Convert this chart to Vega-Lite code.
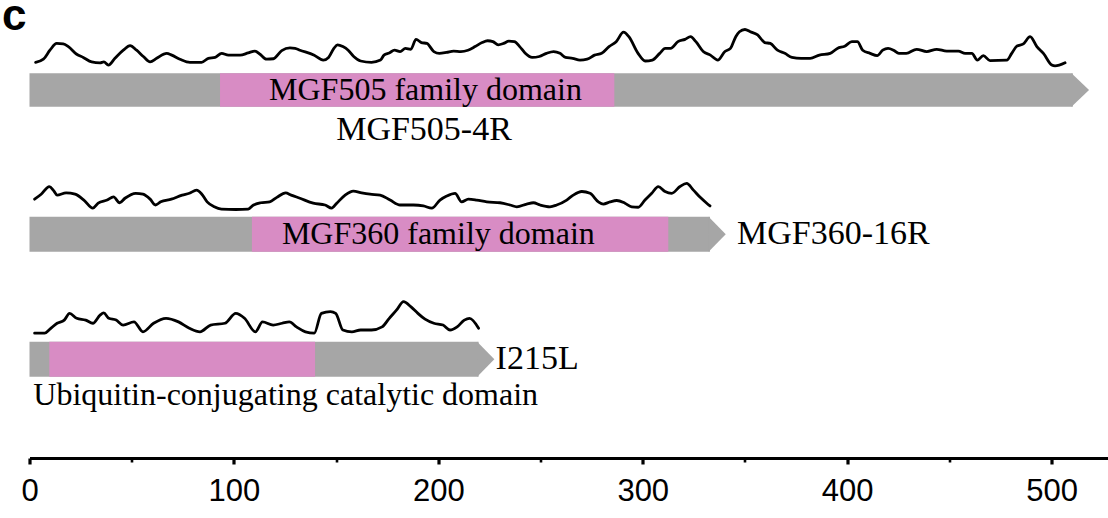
{
  "$schema": "https://vega.github.io/schema/vega-lite/v6.json",
  "width": 1078.5,
  "height": 458,
  "autosize": "none",
  "padding": {"left": 29.5, "top": 0, "right": 0, "bottom": 60},
  "background": "white",
  "config": {
    "view": {"stroke": null},
    "axisX": {
      "grid": false,
      "tickCount": 11,
      "domainColor": "black",
      "domainWidth": 3,
      "tickColor": "black",
      "tickWidth": {"condition": {"test": "datum.value % 100 === 0", "value": 3.2}, "value": 2.6},
      "tickSize": {"condition": {"test": "datum.value % 100 === 0", "value": 6}, "value": 4},
      "labelExpr": "datum.value % 100 === 0 ? datum.label : ''",
      "labelFont": "Liberation Sans",
      "labelFontSize": 31,
      "labelColor": "black",
      "labelPadding": 12,
      "labelFlush": false,
      "labelOverlap": false
    }
  },
  "datasets": {
    "features": [
      {"protein": "MGF505-4R", "feature": "MGF505-4R", "kind": "protein", "start": 0, "end": 510.4},
      {"protein": "MGF505-4R", "feature": "MGF505 family domain", "kind": "domain", "start": 93.2, "end": 286.1},
      {"protein": "MGF360-16R", "feature": "MGF360-16R", "kind": "protein", "start": 0, "end": 332.9},
      {"protein": "MGF360-16R", "feature": "MGF360 family domain", "kind": "domain", "start": 108.8, "end": 312.5},
      {"protein": "I215L", "feature": "I215L", "kind": "protein", "start": 0, "end": 219.7},
      {"protein": "I215L", "feature": "Ubiquitin-conjugating catalytic domain", "kind": "domain", "start": 9.7, "end": 139.7}
    ],
    "profile_505": [
      {"residue":3,"score":0.17},{"residue":6.8,"score":0.24},{"residue":10,"score":0.44},{"residue":13.3,"score":0.59},{"residue":16.5,"score":0.58},{"residue":19,"score":0.52},{"residue":23.1,"score":0.35},{"residue":26.3,"score":0.28},{"residue":30.4,"score":0.18},{"residue":34.5,"score":0.16},{"residue":36.4,"score":0.18},{"residue":38.6,"score":0.11},{"residue":41.8,"score":0.26},{"residue":45.9,"score":0.44},{"residue":49.2,"score":0.54},{"residue":52.4,"score":0.44},{"residue":55.7,"score":0.3},{"residue":59,"score":0.18},{"residue":62.2,"score":0.26},{"residue":67.1,"score":0.37},{"residue":69.6,"score":0.33},{"residue":73.6,"score":0.24},{"residue":78.5,"score":0.17},{"residue":84.2,"score":0.17},{"residue":87.5,"score":0.26},{"residue":90.8,"score":0.28},{"residue":94,"score":0.37},{"residue":97.3,"score":0.33},{"residue":103,"score":0.33},{"residue":107,"score":0.38},{"residue":110.3,"score":0.42},{"residue":112.8,"score":0.35},{"residue":116,"score":0.24},{"residue":119.3,"score":0.25},{"residue":123.4,"score":0.43},{"residue":127.4,"score":0.49},{"residue":129.9,"score":0.48},{"residue":132.3,"score":0.44},{"residue":139.3,"score":0.33},{"residue":143.7,"score":0.22},{"residue":146.3,"score":0.28},{"residue":148.9,"score":0.48},{"residue":150.7,"score":0.56},{"residue":153.3,"score":0.52},{"residue":155.9,"score":0.44},{"residue":158.6,"score":0.3},{"residue":162,"score":0.2},{"residue":167.3,"score":0.17},{"residue":171.7,"score":0.22},{"residue":173.4,"score":0.33},{"residue":176,"score":0.38},{"residue":178.6,"score":0.44},{"residue":181.3,"score":0.41},{"residue":183.9,"score":0.48},{"residue":186.5,"score":0.46},{"residue":189.1,"score":0.68},{"residue":191.7,"score":0.61},{"residue":194.4,"score":0.59},{"residue":197.8,"score":0.41},{"residue":200.5,"score":0.37},{"residue":204,"score":0.39},{"residue":207.5,"score":0.42},{"residue":211,"score":0.41},{"residue":214.5,"score":0.44},{"residue":218,"score":0.52},{"residue":221.4,"score":0.61},{"residue":224.1,"score":0.65},{"residue":226.7,"score":0.63},{"residue":229.3,"score":0.56},{"residue":231.9,"score":0.59},{"residue":234.5,"score":0.64},{"residue":237.2,"score":0.63},{"residue":239.8,"score":0.52},{"residue":242.4,"score":0.38},{"residue":245.9,"score":0.28},{"residue":249.4,"score":0.3},{"residue":252.9,"score":0.37},{"residue":256.4,"score":0.41},{"residue":259.5,"score":0.37},{"residue":262.2,"score":0.28},{"residue":265.7,"score":0.26},{"residue":269.3,"score":0.22},{"residue":272.8,"score":0.24},{"residue":276.4,"score":0.33},{"residue":279.9,"score":0.37},{"residue":283.5,"score":0.52},{"residue":287,"score":0.63},{"residue":290.6,"score":0.84},{"residue":293.2,"score":0.74},{"residue":297.7,"score":0.37},{"residue":301.2,"score":0.2},{"residue":304.7,"score":0.22},{"residue":308.3,"score":0.37},{"residue":311,"score":0.48},{"residue":313.6,"score":0.48},{"residue":317.2,"score":0.63},{"residue":320.7,"score":0.68},{"residue":323.4,"score":0.74},{"residue":326,"score":0.63},{"residue":329.6,"score":0.41},{"residue":333.1,"score":0.33},{"residue":336.7,"score":0.22},{"residue":340.2,"score":0.41},{"residue":342.9,"score":0.48},{"residue":345.5,"score":0.74},{"residue":347.3,"score":0.85},{"residue":350,"score":0.9},{"residue":352.6,"score":0.85},{"residue":356.2,"score":0.78},{"residue":359.7,"score":0.61},{"residue":362.4,"score":0.59},{"residue":365.9,"score":0.44},{"residue":369.5,"score":0.37},{"residue":373,"score":0.28},{"residue":377.5,"score":0.26},{"residue":381.9,"score":0.26},{"residue":386.4,"score":0.33},{"residue":391.7,"score":0.37},{"residue":395.2,"score":0.48},{"residue":398.8,"score":0.53},{"residue":402.3,"score":0.63},{"residue":405,"score":0.63},{"residue":407.6,"score":0.44},{"residue":411.2,"score":0.37},{"residue":414.7,"score":0.32},{"residue":417.4,"score":0.44},{"residue":420,"score":0.48},{"residue":422.7,"score":0.44},{"residue":425.3,"score":0.37},{"residue":428.9,"score":0.37},{"residue":434,"score":0.46},{"residue":438.9,"score":0.41},{"residue":443.8,"score":0.46},{"residue":448.7,"score":0.42},{"residue":454.4,"score":0.42},{"residue":457.7,"score":0.37},{"residue":461,"score":0.37},{"residue":463.7,"score":0.22},{"residue":466.6,"score":0.32},{"residue":469.9,"score":0.21},{"residue":478.1,"score":0.22},{"residue":480.5,"score":0.37},{"residue":483,"score":0.53},{"residue":486.2,"score":0.58},{"residue":489.5,"score":0.74},{"residue":492.8,"score":0.52},{"residue":496,"score":0.37},{"residue":500.1,"score":0.11},{"residue":501.7,"score":0.09},{"residue":506.6,"score":0.16}
    ],
    "profile_360": [
      {"residue":2.5,"score":0.33},{"residue":5.7,"score":0.44},{"residue":9.7,"score":0.61},{"residue":11.8,"score":0.52},{"residue":13.5,"score":0.42},{"residue":17.9,"score":0.47},{"residue":22.3,"score":0.44},{"residue":26.6,"score":0.31},{"residue":31,"score":0.13},{"residue":33.6,"score":0.24},{"residue":38,"score":0.31},{"residue":41.1,"score":0.38},{"residue":44.1,"score":0.25},{"residue":46.7,"score":0.35},{"residue":52,"score":0.46},{"residue":55.5,"score":0.44},{"residue":59,"score":0.33},{"residue":61.6,"score":0.2},{"residue":64.2,"score":0.27},{"residue":69.4,"score":0.33},{"residue":74.7,"score":0.42},{"residue":78.2,"score":0.46},{"residue":81.7,"score":0.53},{"residue":84.3,"score":0.44},{"residue":86.9,"score":0.27},{"residue":90.4,"score":0.16},{"residue":93.9,"score":0.11},{"residue":100.9,"score":0.1},{"residue":107,"score":0.11},{"residue":109.6,"score":0.2},{"residue":113.1,"score":0.25},{"residue":117.5,"score":0.27},{"residue":121,"score":0.37},{"residue":125.3,"score":0.47},{"residue":128,"score":0.42},{"residue":132.3,"score":0.35},{"residue":138.8,"score":0.24},{"residue":144.6,"score":0.2},{"residue":147.8,"score":0.13},{"residue":150.3,"score":0.24},{"residue":154.4,"score":0.42},{"residue":158.4,"score":0.51},{"residue":162.5,"score":0.47},{"residue":166.6,"score":0.44},{"residue":171.5,"score":0.42},{"residue":176.4,"score":0.31},{"residue":181.3,"score":0.2},{"residue":187.8,"score":0.2},{"residue":192.7,"score":0.18},{"residue":196.8,"score":0.13},{"residue":200.8,"score":0.31},{"residue":204.1,"score":0.4},{"residue":208.2,"score":0.46},{"residue":211.4,"score":0.27},{"residue":214.7,"score":0.33},{"residue":218.8,"score":0.31},{"residue":223.7,"score":0.27},{"residue":230.2,"score":0.25},{"residue":235.1,"score":0.2},{"residue":238.4,"score":0.16},{"residue":243.2,"score":0.22},{"residue":246.5,"score":0.25},{"residue":249.8,"score":0.2},{"residue":254.6,"score":0.16},{"residue":257.9,"score":0.2},{"residue":262.8,"score":0.31},{"residue":266,"score":0.42},{"residue":270.2,"score":0.5},{"residue":274.2,"score":0.46},{"residue":278.3,"score":0.27},{"residue":280.7,"score":0.22},{"residue":284,"score":0.27},{"residue":287.3,"score":0.3},{"residue":291.3,"score":0.24},{"residue":294.6,"score":0.16},{"residue":297.8,"score":0.15},{"residue":301.1,"score":0.31},{"residue":304.4,"score":0.46},{"residue":307.6,"score":0.61},{"residue":310.9,"score":0.5},{"residue":314.2,"score":0.46},{"residue":318.2,"score":0.61},{"residue":321.5,"score":0.68},{"residue":324.8,"score":0.53},{"residue":328.1,"score":0.37},{"residue":331.3,"score":0.24},{"residue":332.9,"score":0.18}
    ],
    "profile_215": [
      {"residue":2.5,"score":0.13},{"residue":7.4,"score":0.13},{"residue":10,"score":0.22},{"residue":13.5,"score":0.35},{"residue":17,"score":0.42},{"residue":19.6,"score":0.57},{"residue":23.1,"score":0.46},{"residue":27.5,"score":0.42},{"residue":31,"score":0.35},{"residue":34.5,"score":0.53},{"residue":36.3,"score":0.58},{"residue":38.8,"score":0.46},{"residue":42.4,"score":0.42},{"residue":45.8,"score":0.31},{"residue":51.1,"score":0.38},{"residue":55.5,"score":0.16},{"residue":60.7,"score":0.35},{"residue":66.8,"score":0.46},{"residue":72.9,"score":0.38},{"residue":78.2,"score":0.24},{"residue":83.4,"score":0.16},{"residue":88.6,"score":0.31},{"residue":95.6,"score":0.35},{"residue":100.9,"score":0.57},{"residue":105.2,"score":0.46},{"residue":110.5,"score":0.16},{"residue":114,"score":0.38},{"residue":119.2,"score":0.31},{"residue":123.6,"score":0.35},{"residue":127.1,"score":0.38},{"residue":130.6,"score":0.27},{"residue":135,"score":0.16},{"residue":139.3,"score":0.13},{"residue":142.8,"score":0.57},{"residue":147.2,"score":0.61},{"residue":149.8,"score":0.57},{"residue":153.3,"score":0.2},{"residue":157.7,"score":0.16},{"residue":162,"score":0.2},{"residue":167.3,"score":0.2},{"residue":172.5,"score":0.27},{"residue":176,"score":0.46},{"residue":179.5,"score":0.64},{"residue":183,"score":0.83},{"residue":186.5,"score":0.72},{"residue":190,"score":0.57},{"residue":193.5,"score":0.44},{"residue":197.8,"score":0.35},{"residue":202.3,"score":0.31},{"residue":205.7,"score":0.2},{"residue":209.2,"score":0.27},{"residue":212.7,"score":0.42},{"residue":215.3,"score":0.46},{"residue":219.7,"score":0.24}
    ]
  },
  "layer": [
    {
      "layer": [
        {
          "data": {"name": "profile_505"},
          "mark": {"type": "line", "color": "black", "strokeWidth": 2.8, "interpolate": "monotone", "strokeJoin": "round", "strokeCap": "round"},
          "encoding": {
            "x": {"field": "residue", "type": "quantitative", "scale": {"domain": [0, 527.6], "nice": false, "zero": false}, "title": null},
            "y": {"field": "score", "type": "quantitative", "scale": {"domain": [0, 1], "range": [70, 25]}, "axis": null}
          }
        },
        {
          "data": {"name": "features"},
          "transform": [{"filter": "datum.protein === 'MGF505-4R'"}],
          "encoding": {
            "y": {"field": "protein", "type": "nominal", "scale": {"type": "band", "range": [73.3, 106.7], "paddingInner": 0, "paddingOuter": 0}, "axis": null}
          },
          "layer": [
            {
              "mark": {"type": "rect"},
              "encoding": {
                "x": {"field": "start", "type": "quantitative", "scale": {"domain": [0, 527.6], "nice": false, "zero": false}, "title": null},
                "x2": {"field": "end"},
                "color": {"field": "kind", "type": "nominal", "scale": {"domain": ["protein", "domain"], "range": ["#a6a6a6", "#d88cc4"]}, "legend": null}
              }
            },
            {
              "transform": [{"filter": "datum.kind === 'protein'"}],
              "mark": {"type": "point", "shape": "M-0.08,-1L0.97,0L-0.08,1Z", "filled": true, "size": 1116, "opacity": 1, "color": "#a6a6a6", "strokeWidth": 0},
              "encoding": {"x": {"field": "end", "type": "quantitative", "scale": {"domain": [0, 527.6], "nice": false, "zero": false}, "title": null}}
            },
            {
              "transform": [{"filter": "datum.kind === 'domain'"}],
              "mark": {"type": "text", "font": "Liberation Serif", "fontSize": 32, "color": "black", "align": "left", "baseline": "middle", "dx": 49},
              "encoding": {
                "x": {"field": "start", "type": "quantitative", "scale": {"domain": [0, 527.6], "nice": false, "zero": false}, "title": null},
                "text": {"field": "feature"}
              }
            },
            {
              "transform": [{"filter": "datum.kind === 'protein'"}],
              "mark": {"type": "text", "font": "Liberation Serif", "fontSize": 34, "color": "black", "align": "center", "baseline": "alphabetic", "dy": 50},
              "encoding": {
                "x": {"datum": 193, "type": "quantitative", "scale": {"domain": [0, 527.6], "nice": false, "zero": false}, "title": null},
                "text": {"field": "feature"}
              }
            },
            {
              "transform": [{"filter": "datum.kind === 'protein'"}],
              "mark": {"type": "text", "font": "Liberation Sans", "fontWeight": "bold", "fontSize": 44, "color": "black", "align": "left", "baseline": "alphabetic", "dy": -60.5},
              "encoding": {
                "x": {"datum": -13.5, "type": "quantitative", "scale": {"domain": [0, 527.6], "nice": false, "zero": false}, "title": null},
                "text": {"value": "c"}
              }
            }
          ]
        }
      ],
      "resolve": {"scale": {"y": "independent"}}
    },
    {
      "layer": [
        {
          "data": {"name": "profile_360"},
          "mark": {"type": "line", "color": "black", "strokeWidth": 2.8, "interpolate": "monotone", "strokeJoin": "round", "strokeCap": "round"},
          "encoding": {
            "x": {"field": "residue", "type": "quantitative", "scale": {"domain": [0, 527.6], "nice": false, "zero": false}, "title": null},
            "y": {"field": "score", "type": "quantitative", "scale": {"domain": [0, 1], "range": [214, 169]}, "axis": null}
          }
        },
        {
          "data": {"name": "features"},
          "transform": [{"filter": "datum.protein === 'MGF360-16R'"}],
          "encoding": {
            "y": {"field": "protein", "type": "nominal", "scale": {"type": "band", "range": [216.7, 251.7], "paddingInner": 0, "paddingOuter": 0}, "axis": null}
          },
          "layer": [
            {
              "mark": {"type": "rect"},
              "encoding": {
                "x": {"field": "start", "type": "quantitative", "scale": {"domain": [0, 527.6], "nice": false, "zero": false}, "title": null},
                "x2": {"field": "end"},
                "color": {"field": "kind", "type": "nominal", "scale": {"domain": ["protein", "domain"], "range": ["#a6a6a6", "#d88cc4"]}, "legend": null}
              }
            },
            {
              "transform": [{"filter": "datum.kind === 'protein'"}],
              "mark": {"type": "point", "shape": "M-0.08,-1L0.9,0L-0.08,1Z", "filled": true, "size": 1225, "opacity": 1, "color": "#a6a6a6", "strokeWidth": 0},
              "encoding": {"x": {"field": "end", "type": "quantitative", "scale": {"domain": [0, 527.6], "nice": false, "zero": false}, "title": null}}
            },
            {
              "transform": [{"filter": "datum.kind === 'domain'"}],
              "mark": {"type": "text", "font": "Liberation Serif", "fontSize": 32, "color": "black", "align": "left", "baseline": "middle", "dx": 30},
              "encoding": {
                "x": {"field": "start", "type": "quantitative", "scale": {"domain": [0, 527.6], "nice": false, "zero": false}, "title": null},
                "text": {"field": "feature"}
              }
            },
            {
              "transform": [{"filter": "datum.kind === 'protein'"}],
              "mark": {"type": "text", "font": "Liberation Serif", "fontSize": 34, "color": "black", "align": "left", "baseline": "middle", "dx": 27},
              "encoding": {
                "x": {"field": "end", "type": "quantitative", "scale": {"domain": [0, 527.6], "nice": false, "zero": false}, "title": null},
                "text": {"field": "feature"}
              }
            }
          ]
        }
      ],
      "resolve": {"scale": {"y": "independent"}}
    },
    {
      "layer": [
        {
          "data": {"name": "profile_215"},
          "mark": {"type": "line", "color": "black", "strokeWidth": 2.8, "interpolate": "monotone", "strokeJoin": "round", "strokeCap": "round"},
          "encoding": {
            "x": {"field": "residue", "type": "quantitative", "scale": {"domain": [0, 527.6], "nice": false, "zero": false}, "title": null},
            "y": {"field": "score", "type": "quantitative", "scale": {"domain": [0, 1], "range": [339, 294]}, "axis": null}
          }
        },
        {
          "data": {"name": "features"},
          "transform": [{"filter": "datum.protein === 'I215L'"}],
          "encoding": {
            "y": {"field": "protein", "type": "nominal", "scale": {"type": "band", "range": [341.7, 376.7], "paddingInner": 0, "paddingOuter": 0}, "axis": null}
          },
          "layer": [
            {
              "mark": {"type": "rect"},
              "encoding": {
                "x": {"field": "start", "type": "quantitative", "scale": {"domain": [0, 527.6], "nice": false, "zero": false}, "title": null},
                "x2": {"field": "end"},
                "color": {"field": "kind", "type": "nominal", "scale": {"domain": ["protein", "domain"], "range": ["#a6a6a6", "#d88cc4"]}, "legend": null}
              }
            },
            {
              "transform": [{"filter": "datum.kind === 'protein'"}],
              "mark": {"type": "point", "shape": "M-0.08,-1L0.9,0L-0.08,1Z", "filled": true, "size": 1225, "opacity": 1, "color": "#a6a6a6", "strokeWidth": 0},
              "encoding": {"x": {"field": "end", "type": "quantitative", "scale": {"domain": [0, 527.6], "nice": false, "zero": false}, "title": null}}
            },
            {
              "transform": [{"filter": "datum.kind === 'domain'"}],
              "mark": {"type": "text", "font": "Liberation Serif", "fontSize": 32, "color": "black", "align": "left", "baseline": "alphabetic", "dx": -16, "dy": 46},
              "encoding": {
                "x": {"field": "start", "type": "quantitative", "scale": {"domain": [0, 527.6], "nice": false, "zero": false}, "title": null},
                "text": {"field": "feature"}
              }
            },
            {
              "transform": [{"filter": "datum.kind === 'protein'"}],
              "mark": {"type": "text", "font": "Liberation Serif", "fontSize": 34, "color": "black", "align": "left", "baseline": "middle", "dx": 17},
              "encoding": {
                "x": {"field": "end", "type": "quantitative", "scale": {"domain": [0, 527.6], "nice": false, "zero": false}, "title": null},
                "text": {"field": "feature"}
              }
            }
          ]
        }
      ],
      "resolve": {"scale": {"y": "independent"}}
    }
  ],
  "resolve": {"scale": {"y": "independent"}}
}
